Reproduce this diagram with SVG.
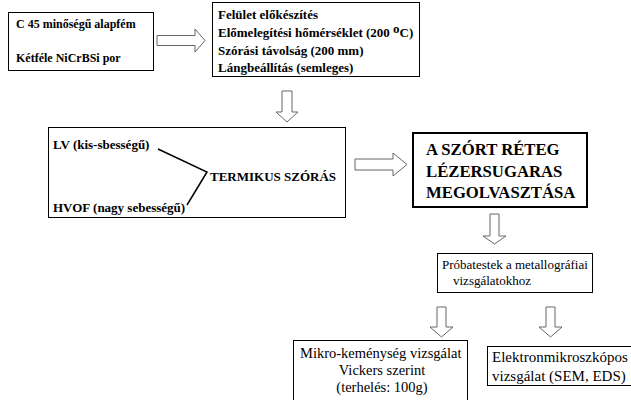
<svg xmlns="http://www.w3.org/2000/svg" width="631" height="400" viewBox="0 0 631 400">
<style>
.box{fill:#fff;stroke:#000;stroke-width:1}
.big{fill:#fff;stroke:#000;stroke-width:2}
.arr{fill:#fff;stroke:#666;stroke-width:1}
text{font-family:'Liberation Serif','Times New Roman',serif;fill:#000}
.b12{font-weight:bold;font-size:12px}
.b{font-weight:bold;font-size:13px}
.r{font-size:13px}
.r14{font-size:14.5px}
.r15{font-size:15px}
.t{font-weight:bold;font-size:16.7px}
.link{fill:none;stroke:#000;stroke-width:1.5}
</style>
<rect width="631" height="400" fill="#fff"/>
<g id="n-alapanyag">
<rect class="box" x="8.5" y="12.5" width="145" height="58"/>
<text class="b12" x="16" y="28">C 45 minőségű alapfém</text>
<text class="b12" x="16" y="62">Kétféle NiCrBSi por</text>
</g>
<g id="n-parameterek">
<rect class="box" x="212.5" y="2.5" width="207" height="74"/>
<text class="b" x="218" y="19">Felület előkészítés</text>
<text class="b" x="218" y="37">Előmelegítési hőmérséklet (200 <tspan dy="-4">o</tspan><tspan dy="4">C)</tspan></text>
<text class="b" x="218" y="55">Szórási távolság (200 mm)</text>
<text class="b" x="218" y="72">Lángbeállítás (semleges)</text>
</g>
<g id="n-termikus">
<rect class="box" x="48.5" y="127.5" width="297" height="90"/>
<text class="b" x="53" y="149">LV (kis-sbességű)</text>
<text class="b" x="210" y="181">TERMIKUS SZÓRÁS</text>
<text class="b" x="53" y="212">HVOF (nagy sebességű)</text>
<path class="link" d="M158,149 L207,172 L187,205"/>
</g>
<g id="n-lezer">
<rect class="big" x="413" y="133" width="174" height="74"/>
<text class="t" x="426" y="155">A SZÓRT RÉTEG</text>
<text class="t" x="426" y="177">LÉZERSUGARAS</text>
<text class="t" x="426" y="198">MEGOLVASZTÁSA</text>
</g>
<g id="n-probatestek">
<rect class="box" x="437.5" y="253.5" width="155" height="39"/>
<text class="r" x="442" y="269">Próbatestek a metallográfiai</text>
<text class="r" x="453" y="285">vizsgálatokhoz</text>
</g>
<g id="n-mikro">
<rect class="box" x="293.5" y="340.5" width="174" height="62"/>
<text class="r14" x="300" y="358">Mikro-keménység vizsgálat</text>
<text class="r14" x="382" y="375" text-anchor="middle">Vickers szerint</text>
<text class="r14" x="382" y="392" text-anchor="middle">(terhelés: 100g)</text>
</g>
<g id="n-sem">
<rect class="box" x="487.5" y="346.5" width="150" height="39"/>
<text class="r15" x="492" y="362">Elektronmikroszkópos</text>
<text class="r15" x="492" y="381">vizsgálat (SEM, EDS)</text>
</g>
<g id="connectors">
<path class="arr" d="M157,35.5 H195 V29 L205,40.5 L195,52 V45.5 H157 Z"/>
<path class="arr" d="M282,91 H292 V112 H298 L287,122 L276,112 H282 Z"/>
<path class="arr" d="M355,159 H393 V153 L407,164.5 L393,176 V170 H355 Z"/>
<path class="arr" d="M490,214 H499 V236 H506 L494.5,244 L483,236 H490 Z"/>
<path class="arr" d="M437,307 H446 V327 H453 L441.5,337 L430,327 H437 Z"/>
<path class="arr" d="M546,307 H555 V327 H562 L550.5,337 L539,327 H546 Z"/>
</g>
</svg>
